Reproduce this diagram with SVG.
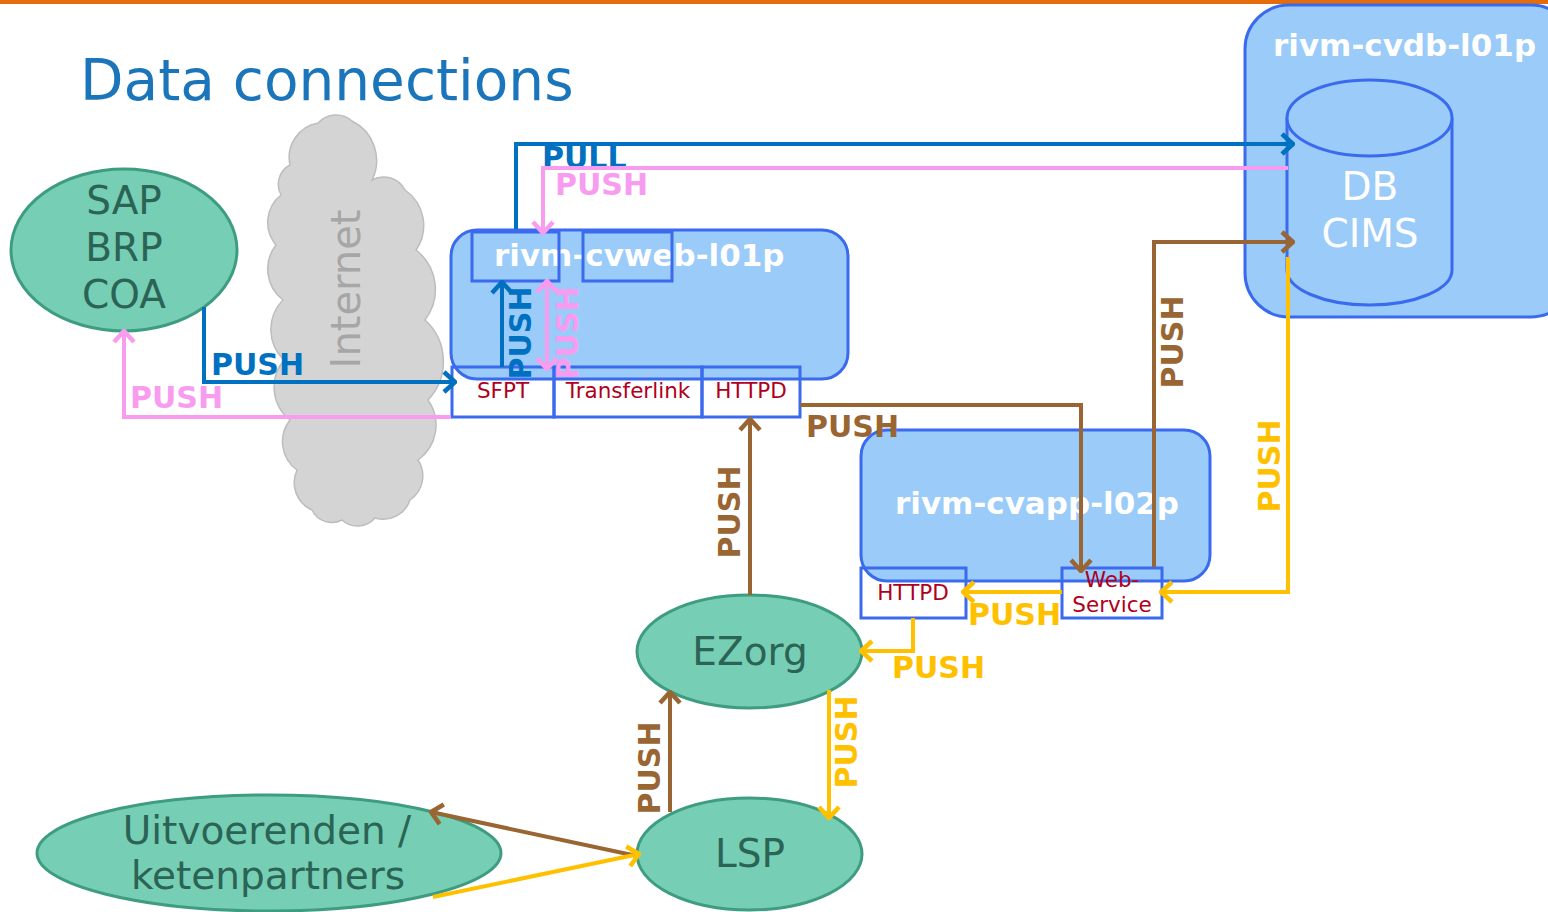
<svg xmlns="http://www.w3.org/2000/svg" width="1548" height="912" viewBox="0 0 1548 912">
  <defs>
    <style>
      .title { font-family: "DejaVu Sans", Verdana, sans-serif; font-size: 56.5px; fill: #1A75BB; }
      .box { fill: #9ACBF9; stroke: #3A6BEF; stroke-width: 3; }
      .sub { fill: none; stroke: #3A6BEF; stroke-width: 3; }
      .btitle { font-family: "DejaVu Sans", Verdana, sans-serif; font-weight: bold; font-size: 31px; fill: #FFFFFF; }
      .port { font-family: "DejaVu Sans", Verdana, sans-serif; font-size: 21.5px; fill: #B00020; }
      .ell { fill: #76CFB4; stroke: #3E9C80; stroke-width: 3; }
      .etext { font-family: "DejaVu Sans", Verdana, sans-serif; font-size: 39px; fill: #2B6355; text-anchor: middle; }
      .dbtext { font-family: "DejaVu Sans", Verdana, sans-serif; font-size: 39px; fill: #FFFFFF; text-anchor: middle; }
      .cloud { fill: #D4D4D4; stroke: #BDBDBD; stroke-width: 1.5; }
      .inet { font-family: "DejaVu Sans", Verdana, sans-serif; font-size: 40px; fill: #A6A6A6; text-anchor: middle; }
      .c { fill: none; stroke-width: 4; stroke-linejoin: miter; }
      .cb { stroke: #0070C0; }
      .cp { stroke: #F89CF0; }
      .cr { stroke: #996633; }
      .cy { stroke: #FFC000; }
      .lbl { font-family: "DejaVu Sans", Verdana, sans-serif; font-weight: bold; font-size: 30px; }
      .lb { fill: #0070C0; }
      .lp { fill: #F89CF0; }
      .lr { fill: #996633; }
      .ly { fill: #FFC000; }
      .rot { text-anchor: middle; }
    </style>
    <marker id="ab" viewBox="-16 -12 18 24" refX="0" refY="0" markerWidth="18" markerHeight="24" markerUnits="userSpaceOnUse" orient="auto-start-reverse">
      <path d="M-11,-10 L0,0 L-11,10" fill="none" stroke="#0070C0" stroke-width="4.5"/>
    </marker>
    <marker id="ap" viewBox="-16 -12 18 24" refX="0" refY="0" markerWidth="18" markerHeight="24" markerUnits="userSpaceOnUse" orient="auto-start-reverse">
      <path d="M-11,-10 L0,0 L-11,10" fill="none" stroke="#F89CF0" stroke-width="4.5"/>
    </marker>
    <marker id="ar" viewBox="-16 -12 18 24" refX="0" refY="0" markerWidth="18" markerHeight="24" markerUnits="userSpaceOnUse" orient="auto-start-reverse">
      <path d="M-11,-10 L0,0 L-11,10" fill="none" stroke="#996633" stroke-width="4.5"/>
    </marker>
    <marker id="ay" viewBox="-16 -12 18 24" refX="0" refY="0" markerWidth="18" markerHeight="24" markerUnits="userSpaceOnUse" orient="auto-start-reverse">
      <path d="M-11,-10 L0,0 L-11,10" fill="none" stroke="#FFC000" stroke-width="4.5"/>
    </marker>
  </defs>

  <rect x="0" y="0" width="1548" height="912" fill="#FFFFFF"/>
  <rect x="0" y="0" width="1548" height="4" fill="#E46C0A"/>
  <text class="title" x="80" y="100">Data connections</text>

  <g id="internet">
    <path class="cloud" d="M290,165 A35,35 0 0 1 318,123 A24,24 0 0 1 352,121 A44,44 0 0 1 372,180 A24,24 0 0 1 405,190 A43,43 0 0 1 416,250 A50,50 0 0 1 425,320 A56,56 0 0 1 428,400 A43,43 0 0 1 418,460 A29,29 0 0 1 410,500 A28,28 0 0 1 375,518 A23,23 0 0 1 342,520 A22,22 0 0 1 312,510 A30,30 0 0 1 297,470 A35,35 0 0 1 290,420 A42,42 0 0 1 284,360 A42,42 0 0 1 283,300 A39,39 0 0 1 276,245 A35,35 0 0 1 281,195 A22,22 0 0 1 290,165 Z"/>
    <text class="inet" transform="translate(360,289) rotate(-90)">Internet</text>
  </g>

  <g id="sap">
    <ellipse class="ell" cx="124" cy="250" rx="113" ry="81"/>
    <text class="etext" x="124" y="214">SAP</text>
    <text class="etext" x="124" y="261">BRP</text>
    <text class="etext" x="124" y="308">COA</text>
  </g>

  <g id="cvweb">
    <rect class="box" x="451" y="230" width="397" height="149" rx="26"/>
    <text class="btitle" x="494" y="266">rivm-cvweb-l01p</text>
    <rect class="sub" x="472" y="232" width="87" height="49"/>
    <rect class="sub" x="583" y="232" width="89" height="49"/>
    <rect class="sub" x="452" y="367" width="102" height="50"/>
    <rect class="sub" x="554" y="367" width="148" height="50"/>
    <rect class="sub" x="702" y="367" width="98" height="50"/>
    <text class="port" x="503" y="398" text-anchor="middle">SFPT</text>
    <text class="port" x="628" y="398" text-anchor="middle">Transferlink</text>
    <text class="port" x="751" y="398" text-anchor="middle">HTTPD</text>
  </g>

  <g id="cvdb">
    <rect class="box" x="1245" y="5" width="330" height="312" rx="44"/>
    <text class="btitle" x="1273" y="56">rivm-cvdb-l01p</text>
    <path class="box" d="M1287,118 L1287,270 A82.5,35 0 0 0 1452,270 L1452,118"/>
    <ellipse class="box" cx="1369.5" cy="118" rx="82.5" ry="38"/>
    <text class="dbtext" x="1370" y="200">DB</text>
    <text class="dbtext" x="1370" y="247">CIMS</text>
  </g>

  <g id="cvapp">
    <rect class="box" x="861" y="430" width="349" height="151" rx="26"/>
    <text class="btitle" x="895" y="514">rivm-cvapp-l02p</text>
    <rect class="sub" x="861" y="568" width="105" height="50"/>
    <rect class="sub" x="1062" y="568" width="100" height="50"/>
    <text class="port" x="913" y="600" text-anchor="middle">HTTPD</text>
    <text class="port" x="1112" y="587" text-anchor="middle">Web-</text>
    <text class="port" x="1112" y="612" text-anchor="middle">Service</text>
  </g>

  <g id="ezorg">
    <ellipse class="ell" cx="749.5" cy="651.5" rx="112.5" ry="56.5"/>
    <text class="etext" x="750" y="665">EZorg</text>
  </g>

  <g id="lsp">
    <ellipse class="ell" cx="749.5" cy="854" rx="112.5" ry="56"/>
    <text class="etext" x="750" y="867">LSP</text>
  </g>

  <g id="uitvoerenden">
    <ellipse class="ell" cx="269" cy="853" rx="232" ry="58"/>
    <text class="etext" x="267" y="844">Uitvoerenden /</text>
    <text class="etext" x="268" y="889">ketenpartners</text>
  </g>

  <g id="connectors">
    <path class="c cb" d="M516,229 L516,144 L1293,144" marker-end="url(#ab)"/>
    <text class="lbl lb" x="542" y="168">PULL</text>
    <path class="c cp" d="M1288,168 L543,168 L543,233" marker-end="url(#ap)"/>
    <text class="lbl lp" x="555" y="195">PUSH</text>
    <path class="c cb" d="M502,367 L502,282" marker-end="url(#ab)"/>
    <text class="lbl lb rot" transform="translate(531,333) rotate(-90)">PUSH</text>
    <path class="c cp" d="M547,369 L547,281" marker-start="url(#ap)" marker-end="url(#ap)"/>
    <text class="lbl lp rot" transform="translate(578,333) rotate(-90)">PUSH</text>
    <path class="c cb" d="M204,307 L204,382 L455,382" marker-end="url(#ab)"/>
    <text class="lbl lb" x="211" y="375">PUSH</text>
    <path class="c cp" d="M451,417 L124,417 L124,331" marker-end="url(#ap)"/>
    <text class="lbl lp" x="130" y="408">PUSH</text>
    <path class="c cr" d="M800,405 L1081,405 L1081,571" marker-end="url(#ar)"/>
    <text class="lbl lr" x="806" y="437">PUSH</text>
    <path class="c cr" d="M1154,567 L1154,242 L1293,242" marker-end="url(#ar)"/>
    <text class="lbl lr rot" transform="translate(1183,342) rotate(-90)">PUSH</text>
    <path class="c cy" d="M1288,257 L1288,592 L1161,592" marker-end="url(#ay)"/>
    <text class="lbl ly rot" transform="translate(1280,466) rotate(-90)">PUSH</text>
    <path class="c cy" d="M1062,592 L963,592" marker-end="url(#ay)"/>
    <text class="lbl ly" x="968" y="625">PUSH</text>
    <path class="c cy" d="M913,618 L913,651 L861,651" marker-end="url(#ay)"/>
    <text class="lbl ly" x="892" y="678">PUSH</text>
    <path class="c cr" d="M750,595 L750,419" marker-end="url(#ar)"/>
    <text class="lbl lr rot" transform="translate(740,512) rotate(-90)">PUSH</text>
    <path class="c cr" d="M670,812 L670,692" marker-end="url(#ar)"/>
    <text class="lbl lr rot" transform="translate(660,768) rotate(-90)">PUSH</text>
    <path class="c cy" d="M829,690 L829,818" marker-end="url(#ay)"/>
    <text class="lbl ly rot" transform="translate(857,742) rotate(-90)">PUSH</text>
    <path class="c cr" d="M637,856 L431,812" marker-end="url(#ar)"/>
    <path class="c cy" d="M433,897 L639,854" marker-end="url(#ay)"/>
  </g>
</svg>
